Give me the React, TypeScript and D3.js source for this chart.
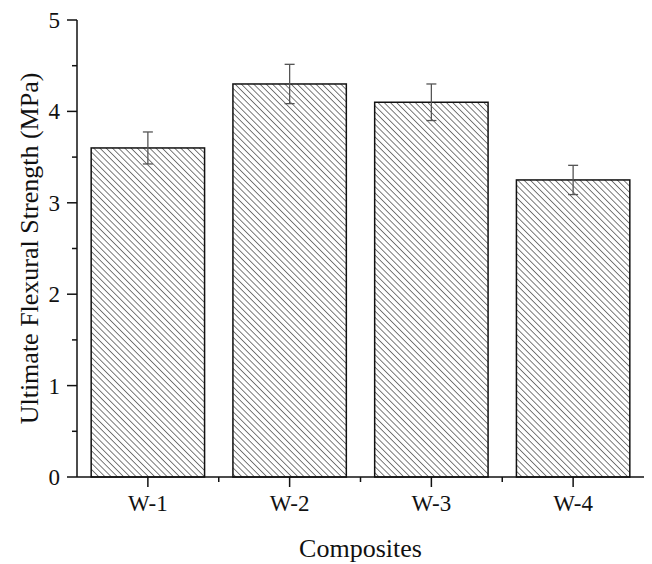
import React from "react";
import * as d3 from "d3";

const categories = ["W-1", "W-2", "W-3", "W-4"];
const strength = [3.6, 4.3, 4.1, 3.25];
const errors = [0.175, 0.215, 0.2, 0.16];
const yTicks = [0, 1, 2, 3, 4, 5];
const yMinorTicks = [0.5, 1.5, 2.5, 3.5, 4.5];

const width = 652;
const height = 564;
const margin = { top: 20, right: 8, bottom: 87, left: 77 };
const font = "Liberation Serif, Times New Roman, Times, DejaVu Serif, serif";

const App = () => {
  const innerWidth = width - margin.left - margin.right;
  const innerHeight = height - margin.top - margin.bottom;

  const xScale = d3
    .scaleBand()
    .domain(categories)
    .range([0, innerWidth])
    .paddingInner(0.2)
    .paddingOuter(0.1);

  const yScale = d3.scaleLinear().domain([0, 5]).range([innerHeight, 0]);

  const step = xScale.step();
  // minor ticks between categories
  const xMinor = categories.slice(1).map((c) => xScale(c)! - (step * 0.2) / 2);

  return (
    <svg
      width={width}
      height={height}
      style={{ position: "absolute", left: 0, top: 0, background: "#fff", fontFamily: font }}
    >
      <defs>
        <pattern
          id="hatch"
          patternUnits="userSpaceOnUse"
          width={4.4}
          height={4.4}
          patternTransform="rotate(-45)"
        >
          <rect width={4.4} height={4.4} fill="#fff" />
          <line x1={0} y1={0} x2={0} y2={4.4} stroke="#444" strokeWidth={1.4} />
        </pattern>
      </defs>
      <g transform={`translate(${margin.left},${margin.top})`}>
        {/* Bars */}
        {categories.map((c, i) => {
          const x = xScale(c)!;
          const y = yScale(strength[i]);
          return (
            <rect
              key={c}
              x={x}
              y={y}
              width={xScale.bandwidth()}
              height={innerHeight - y}
              fill="url(#hatch)"
              stroke="#111"
              strokeWidth={1.5}
            />
          );
        })}

        {/* Error bars */}
        {categories.map((c, i) => {
          const cx = xScale(c)! + xScale.bandwidth() / 2;
          const y1 = yScale(strength[i] + errors[i]);
          const y2 = yScale(strength[i] - errors[i]);
          return (
            <g key={`err-${c}`} stroke="#555" strokeWidth={1.3}>
              <line x1={cx} x2={cx} y1={y1} y2={y2} />
              <line x1={cx - 5} x2={cx + 5} y1={y1} y2={y1} />
              <line x1={cx - 5} x2={cx + 5} y1={y2} y2={y2} />
            </g>
          );
        })}

        {/* Y axis */}
        <line x1={0} x2={0} y1={0} y2={innerHeight} stroke="#111" strokeWidth={1.5} />
        {yTicks.map((t) => (
          <g key={t} transform={`translate(0,${yScale(t)})`}>
            <line x1={-10} x2={0} stroke="#111" strokeWidth={1.5} />
            <text
              x={-17}
              dy="0.35em"
              textAnchor="end"
              fontSize={23}
              fontFamily={font}
              fill="#111"
            >
              {t}
            </text>
          </g>
        ))}
        {yMinorTicks.map((t) => (
          <line
            key={`m-${t}`}
            x1={-5}
            x2={0}
            y1={yScale(t)}
            y2={yScale(t)}
            stroke="#111"
            strokeWidth={1.5}
          />
        ))}

        {/* X axis */}
        <line x1={0} x2={innerWidth} y1={innerHeight} y2={innerHeight} stroke="#111" strokeWidth={1.5} />
        {categories.map((c) => {
          const cx = xScale(c)! + xScale.bandwidth() / 2;
          return (
            <g key={`x-${c}`}>
              <line x1={cx} x2={cx} y1={innerHeight} y2={innerHeight + 10} stroke="#111" strokeWidth={1.5} />
              <text
                x={cx}
                y={innerHeight + 34}
                textAnchor="middle"
                fontSize={23}
                fontFamily={font}
                fill="#111"
              >
                {c}
              </text>
            </g>
          );
        })}
        {xMinor.map((x, i) => (
          <line
            key={`xm-${i}`}
            x1={x}
            x2={x}
            y1={innerHeight}
            y2={innerHeight + 5}
            stroke="#111"
            strokeWidth={1.5}
          />
        ))}

        {/* Axis titles */}
        <text
          x={innerWidth / 2}
          y={innerHeight + 80}
          textAnchor="middle"
          fontSize={26}
          fontFamily={font}
          fill="#111"
        >
          Composites
        </text>
        <text
          transform={`translate(${-39},${innerHeight / 2}) rotate(-90)`}
          textAnchor="middle"
          fontSize={26}
          fontFamily={font}
          fill="#111"
        >
          Ultimate Flexural Strength (MPa)
        </text>
      </g>
    </svg>
  );
};

export default App;
